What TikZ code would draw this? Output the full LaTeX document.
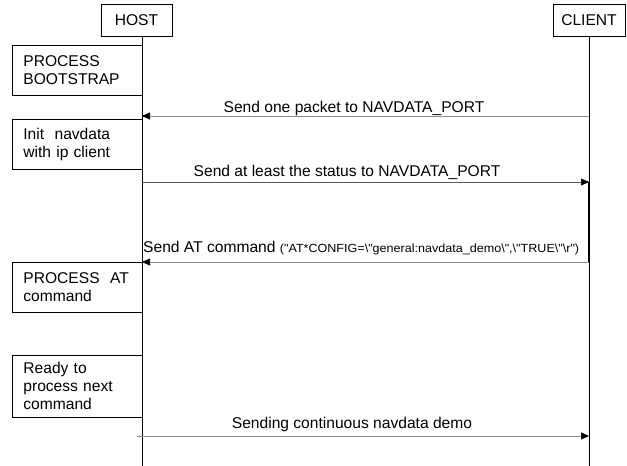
\documentclass[tikz,border=0pt]{standalone}
\usepackage{fontspec}
\setmainfont{Liberation Sans}[Ligatures=TeXOff]
\usetikzlibrary{arrows.meta}
\begin{document}
\begin{tikzpicture}[x=1pt,y=-1pt,
  every node/.style={font=\fontsize{15.6}{18}\selectfont},
  actor/.style={draw=black,line width=0.8pt,inner sep=0pt,minimum height=32pt},
  stepbox/.style={draw=black,line width=0.8pt,anchor=north west,minimum width=130pt,
    text width=108pt,inner xsep=11pt,inner ysep=0pt,align=left},
  lifeline/.style={line width=0.9pt,black},
  msg/.style={line width=0.7pt,draw=black!45,
    -{Triangle[length=8pt,width=7pt,black,fill=black]}},
  msgtext/.style={anchor=base,inner sep=0pt}]
\useasboundingbox (0,0) rectangle (627,466);

% participants
\node[actor,minimum width=71pt] (host) at (136.5,20.5) {HOST};
\node[actor,minimum width=72pt] (client) at (589,20.5) {CLIENT};
\coordinate (hostend) at (142,466);
\coordinate (clientend) at (589,466);
\draw[lifeline] (host.south -| hostend) -- (hostend);
\draw[lifeline] (client.south) -- (clientend);

% activities on the host side
\node[stepbox,minimum height=50pt] (boot) at (12,45) {PROCESS\\BOOTSTRAP};
\node[stepbox,minimum height=50pt] (init) at (12,119) {Init~~navdata\\with ip client};
\node[stepbox,minimum height=50pt] (procat) at (12,262) {PROCESS~~AT\\command};
\node[stepbox,minimum height=62pt] (ready) at (12,355) {Ready to\\process next\\command};

% message anchors on the lifelines
\coordinate (c1) at (589,116);  \coordinate (h1) at (142,116);
\coordinate (h2) at (142,182);  \coordinate (c2) at (589,182);
\coordinate (c3) at (589,262);  \coordinate (h3) at (142,262);
\coordinate (h4) at (137,436);  \coordinate (c4) at (589,436);

% client busy while the command is prepared
\draw[line width=2.4pt] (c2) -- (c3);

% messages
\draw[msg] (c1) -- (h1);
\node[msgtext] (m1) at (354,112) {Send one packet to NAVDATA\_PORT};

\draw[msg,draw=black!65] (h2) -- (c2);
\node[msgtext] (m2) at (347,176) {Send at least the status to NAVDATA\_PORT};

\draw[msg] (c3) -- (h3);
\node[msgtext,anchor=base west] (m3) at (143,252) {Send AT command \scalebox{1.065}[1]{\fontsize{11.8}{14}\selectfont ("AT*CONFIG=\textbackslash"general:navdata\_demo\textbackslash",\textbackslash"TRUE\textbackslash"\textbackslash r")}};

\draw[msg] (h4) -- (c4);
\node[msgtext] (m4) at (352,428) {Sending continuous navdata demo};
\end{tikzpicture}
\end{document}
